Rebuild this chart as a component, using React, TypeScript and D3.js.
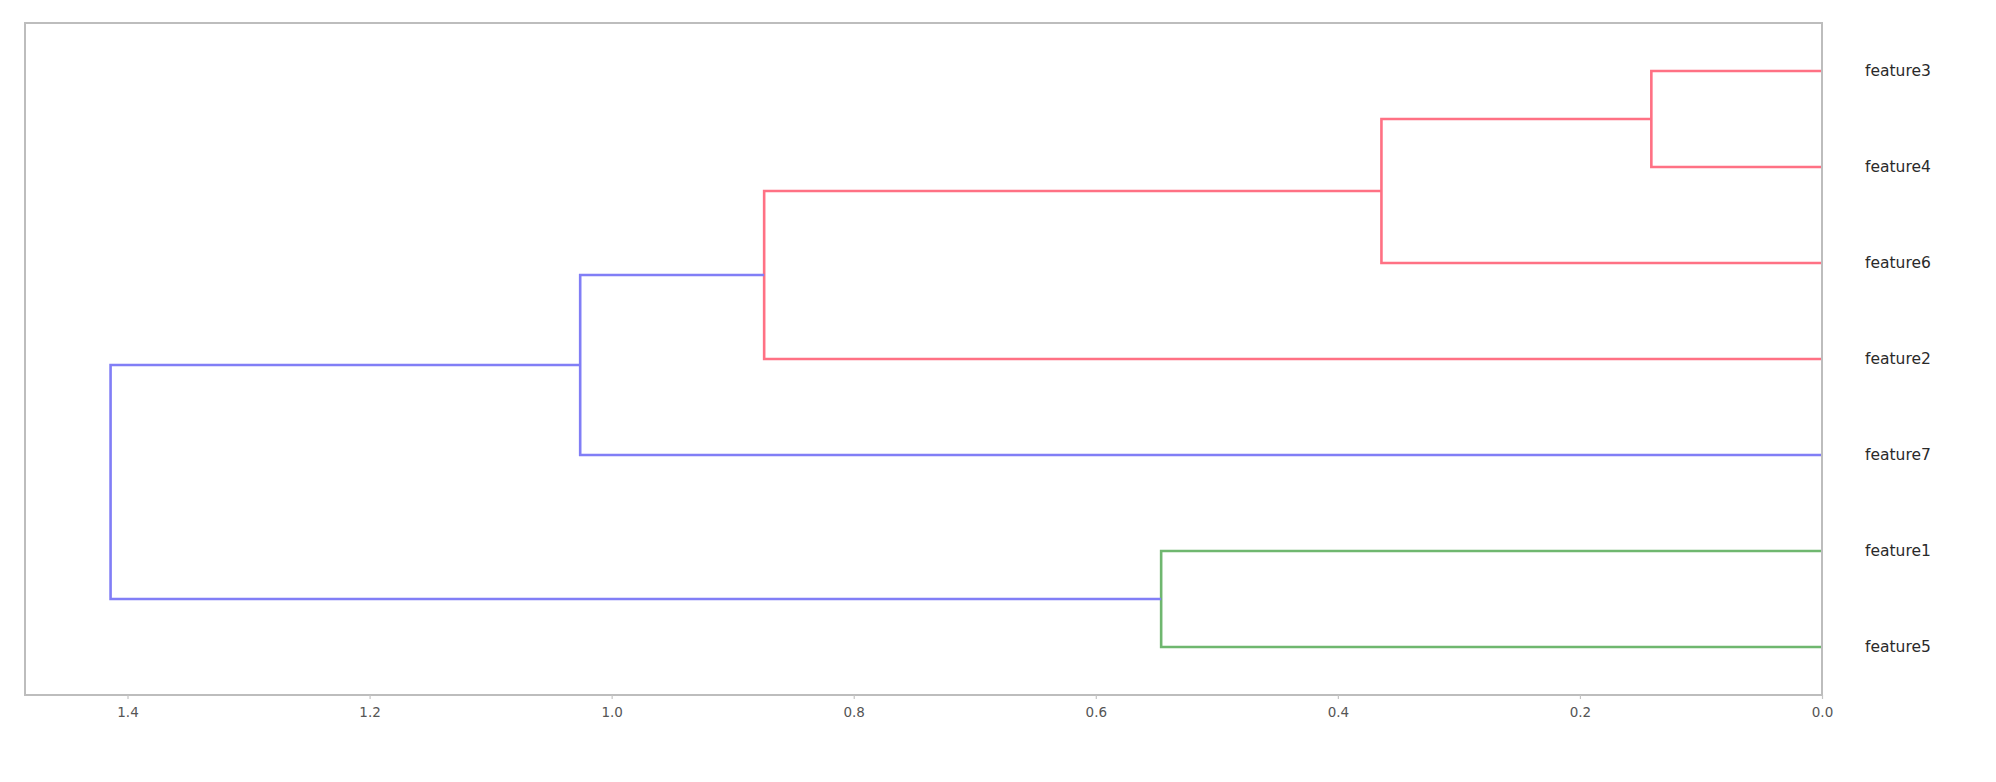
import React, { useEffect, useRef } from 'react';
import * as d3 from 'd3';

// leaves listed bottom to top, as scipy places them in a left-oriented dendrogram
const leafNames = ['feature5', 'feature1', 'feature7', 'feature2', 'feature6', 'feature4', 'feature3'];
// each merge joins two ids; merge i gets id `m${i}`
const mergePairs: [string, string][] = [
  ['feature3', 'feature4'],
  ['m0', 'feature6'],
  ['m1', 'feature2'],
  ['m2', 'feature7'],
  ['feature1', 'feature5'],
  ['m3', 'm4'],
];
const mergeHeights = [0.141, 0.364, 0.874, 1.026, 0.546, 1.414];
const mergeColors = ['r', 'r', 'r', 'b', 'g', 'b'];
const tickValues = [1.4, 1.2, 1.0, 0.8, 0.6, 0.4, 0.2, 0.0];

const palette: Record<string, string> = { r: '#ff7184', b: '#817ef6', g: '#6fb76f' };

const W = 1996;
const H = 782;
const frame = { left: 25, right: 1822, top: 23, bottom: 695 };

const App: React.FC = () => {
  const svgRef = useRef<SVGSVGElement>(null);

  useEffect(() => {
    if (!svgRef.current) return;
    const svg = d3.select(svgRef.current);
    svg.selectAll('*').remove();

    // positions of leaves (5, 15, 25, ...) and merges (mean of children)
    const pos: Record<string, { y: number; h: number }> = {};
    leafNames.forEach((n, i) => { pos[n] = { y: 5 + 10 * i, h: 0 }; });
    mergePairs.forEach(([a, b], i) => {
      pos[`m${i}`] = { y: (pos[a].y + pos[b].y) / 2, h: mergeHeights[i] };
    });

    const maxH = d3.max(mergeHeights) || 1;
    const x = d3.scaleLinear().domain([maxH * 1.05, 0]).range([frame.left, frame.right]);
    const y = d3.scaleLinear().domain([0, leafNames.length * 10]).range([frame.bottom, frame.top]);

    // elbows
    const line = d3.line<[number, number]>().x(d => x(d[0])).y(d => y(d[1]));
    mergePairs.forEach(([a, b], i) => {
      const p = pos[`m${i}`];
      const pts: [number, number][] = [
        [pos[a].h, pos[a].y],
        [p.h, pos[a].y],
        [p.h, pos[b].y],
        [pos[b].h, pos[b].y],
      ];
      svg.append('path')
        .attr('d', line(pts))
        .attr('fill', 'none')
        .attr('stroke', palette[mergeColors[i]])
        .attr('stroke-width', 2.6);
    });

    // frame
    svg.append('rect')
      .attr('x', frame.left)
      .attr('y', frame.top)
      .attr('width', frame.right - frame.left)
      .attr('height', frame.bottom - frame.top)
      .attr('fill', 'none')
      .attr('stroke', '#bdbdbd')
      .attr('stroke-width', 2);

    // x axis
    const axis = svg.append('g')
      .attr('transform', `translate(0,${frame.bottom})`)
      .call(d3.axisBottom(x).tickValues(tickValues).tickFormat(d3.format('.1f')).tickSize(4).tickPadding(8));
    axis.select('.domain').remove();
    axis.selectAll('line').attr('stroke', '#c4c4c4').attr('stroke-width', 1.2);
    axis.selectAll('text')
      .attr('font-family', 'DejaVu Sans')
      .attr('font-size', 13.5)
      .attr('fill', '#555');

    // leaf labels
    svg.append('g')
      .selectAll('text')
      .data(leafNames)
      .join('text')
      .attr('x', frame.right + 43)
      .attr('y', d => y(pos[d].y))
      .attr('dy', '0.35em')
      .attr('font-family', 'DejaVu Sans')
      .attr('font-size', 15.5)
      .attr('fill', '#2a2a2a')
      .text(d => d);
  }, []);

  return (
    <svg
      ref={svgRef}
      width={W}
      height={H}
      style={{ position: 'absolute', left: 0, top: 0, background: '#fff' }}
    />
  );
};

export default App;
